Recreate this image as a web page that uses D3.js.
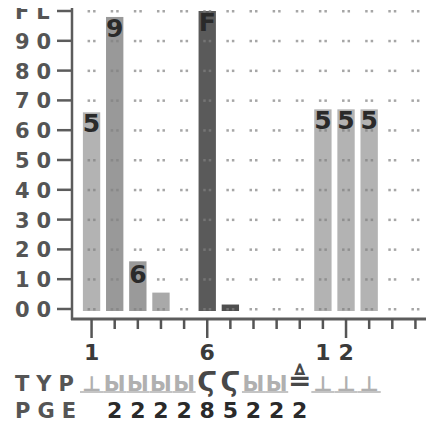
<!DOCTYPE html>
<html>
<head>
<meta charset="utf-8">
<script src="https://cdn.jsdelivr.net/npm/d3@7"></script>
<style>
  html, body { margin: 0; padding: 0; background: #fff; }
  svg text { font-family: "DejaVu Sans", sans-serif; font-weight: bold; }
</style>
</head>
<body>
<div id="chart"></div>
<script>
// categories along the bottom, one bar each
var categories = [1, 2, 3, 4, 5, 6, 7, 8, 9, 10, 11, 12, 13, 14, 15]
var values = [66, 98, 16, 5.5, 0, 100, 1.5, 0, 0, 0, 67, 67, 67, 0, 0]
var barLabels = ["5", "9", "6", "", "", "F", "", "", "", "", "5", "5", "5", "", ""]
var xTickLabels = ["1", "", "", "", "", "6", "", "", "", "", "1", "2", "", "", ""]
var longTicks = [1, 6, 12]
var yTicks = [0, 10, 20, 30, 40, 50, 60, 70, 80, 90, 100]
var yTickLabels = ["00", "10", "20", "30", "40", "50", "60", "70", "80", "90", "FL"]
var typGlyphs = ["⊥", "Ы", "Ы", "Ы", "Ы", "Ϛ", "Ϛ", "Ы", "Ы", "≜", "⊥", "⊥", "⊥", "", ""]
var pgeLabels = ["", "2", "2", "2", "2", "8", "5", "2", "2", "2", "", "", "", "", ""]

var width = 426, height = 423

var x = d3.scaleBand().domain(categories).range([80, 427]).paddingInner(0.25).paddingOuter(0.125)
var y = d3.scaleLinear().domain([0, 100]).range([309, 11])

var barColor = d3.scaleOrdinal()
  .domain(categories)
  .range(["#b3b3b3", "#999999", "#9a9a9a", "#a9a9a9", "#aaaaaa", "#5a5a5a", "#4f4f4f",
          "#aaaaaa", "#aaaaaa", "#aaaaaa", "#b3b3b3", "#b3b3b3", "#b3b3b3", "#aaaaaa", "#aaaaaa"])
var darkGlyph = function (g) { return g === "Ϛ" || g === "≜" }

var svg = d3.select("#chart").append("svg")
  .attr("width", width)
  .attr("height", height)

// top of the chart is cut off in the original
svg.append("clipPath").attr("id", "cut")
  .append("rect").attr("x", 0).attr("y", 8).attr("width", width).attr("height", height)

var g = svg.append("g").attr("clip-path", "url(#cut)")

var cx = function (d) { return x(d) + x.bandwidth() / 2 }

// bars
g.selectAll(".bar")
  .data(categories.filter(function (d, i) { return values[i] > 0 }))
  .enter().append("rect")
  .attr("class", "bar")
  .attr("x", function (d) { return x(d) })
  .attr("width", x.bandwidth())
  .attr("y", function (d) { return y(values[d - 1]) })
  .attr("height", function (d) { return y(0) - y(values[d - 1]) + 2 })
  .attr("fill", function (d) { return barColor(d) })

// dotted grid: a pair of dots per category on each gridline
var dots = []
yTicks.forEach(function (v) {
  categories.forEach(function (c) { dots.push({ c: c, v: v }) })
})
g.selectAll(".dot")
  .data(dots)
  .enter().append("g")
  .attr("transform", function (d) { return "translate(" + cx(d.c) + "," + y(d.v) + ")" })
  .each(function () {
    d3.select(this).append("rect").attr("x", -4).attr("y", -1).attr("width", 2.5).attr("height", 2.5).attr("fill", "#808080").attr("opacity", 0.7)
    d3.select(this).append("rect").attr("x", 1.5).attr("y", -1).attr("width", 2.5).attr("height", 2.5).attr("fill", "#808080").attr("opacity", 0.7)
  })

// labels at the top of the bars
g.selectAll(".barlabel")
  .data(categories.filter(function (d, i) { return barLabels[i] !== "" }))
  .enter().append("text")
  .attr("x", cx)
  .attr("y", function (d) { return y(values[d - 1]) + (d === 3 ? 22 : 20) })
  .attr("text-anchor", "middle")
  .attr("font-size", 25)
  .attr("fill", "#2a2a2a")
  .text(function (d) { return barLabels[d - 1] })

// y axis
g.append("line")
  .attr("x1", 72).attr("x2", 72).attr("y1", 0).attr("y2", 320)
  .attr("stroke", "#5c5c5c").attr("stroke-width", 2.5)
g.selectAll(".ytick")
  .data(yTicks)
  .enter().append("line")
  .attr("x1", 57).attr("x2", 72)
  .attr("y1", function (d) { return y(d) }).attr("y2", function (d) { return y(d) })
  .attr("stroke", "#5c5c5c").attr("stroke-width", 2.5)
g.selectAll(".ylabel")
  .data(yTicks)
  .enter().append("text")
  .attr("x", 15)
  .attr("y", function (d) { return y(d) + 8 })
  .attr("font-size", 21)
  .attr("letter-spacing", 7)
  .attr("fill", "#555")
  .text(function (d, i) { return yTickLabels[i] })

// x axis
svg.append("line")
  .attr("x1", 71).attr("x2", width).attr("y1", 319).attr("y2", 319)
  .attr("stroke", "#5c5c5c").attr("stroke-width", 3)
svg.selectAll(".xtick")
  .data(categories)
  .enter().append("line")
  .attr("x1", cx).attr("x2", cx)
  .attr("y1", 319)
  .attr("y2", function (d) { return longTicks.indexOf(d) >= 0 ? 338 : 329 })
  .attr("stroke", "#555").attr("stroke-width", 2.5)
svg.selectAll(".xlabel")
  .data(categories.filter(function (d, i) { return xTickLabels[i] !== "" }))
  .enter().append("text")
  .attr("x", cx)
  .attr("y", 360)
  .attr("text-anchor", "middle")
  .attr("font-size", 22)
  .attr("fill", "#3a3a3a")
  .text(function (d) { return xTickLabels[d - 1] })

// TYP row
svg.append("text")
  .attr("x", 15).attr("y", 391)
  .attr("font-size", 21).attr("letter-spacing", 7).attr("fill", "#555")
  .text("TYP")
var typ = svg.selectAll(".typ")
  .data(categories.filter(function (d, i) { return typGlyphs[i] !== "" }))
  .enter().append("g")
typ.filter(function (d) { return !darkGlyph(typGlyphs[d - 1]) })
  .append("rect")
  .attr("x", function (d) { return x(d) - x.step() * 0.125 })
  .attr("width", x.step())
  .attr("y", 391).attr("height", 2)
  .attr("fill", "#c4c4c4")
typ.append("text")
  .attr("x", cx)
  .attr("y", function (d) { return typGlyphs[d - 1] === "≜" ? 390 : 391 })
  .attr("text-anchor", "middle")
  .attr("font-size", function (d) {
    var t = typGlyphs[d - 1]
    return t === "≜" ? 28 : (t === "Ϛ" ? 27 : 21)
  })
  .attr("fill", function (d) { return darkGlyph(typGlyphs[d - 1]) ? "#484848" : "#b0b0b0" })
  .text(function (d) { return typGlyphs[d - 1] })

// PGE row
svg.append("text")
  .attr("x", 15).attr("y", 418)
  .attr("font-size", 21).attr("letter-spacing", 7).attr("fill", "#555")
  .text("PGE")
svg.selectAll(".pge")
  .data(categories.filter(function (d, i) { return pgeLabels[i] !== "" }))
  .enter().append("text")
  .attr("x", cx)
  .attr("y", 418)
  .attr("text-anchor", "middle")
  .attr("font-size", 22)
  .attr("fill", "#2a2a2a")
  .text(function (d) { return pgeLabels[d - 1] })
</script>
</body>
</html>
